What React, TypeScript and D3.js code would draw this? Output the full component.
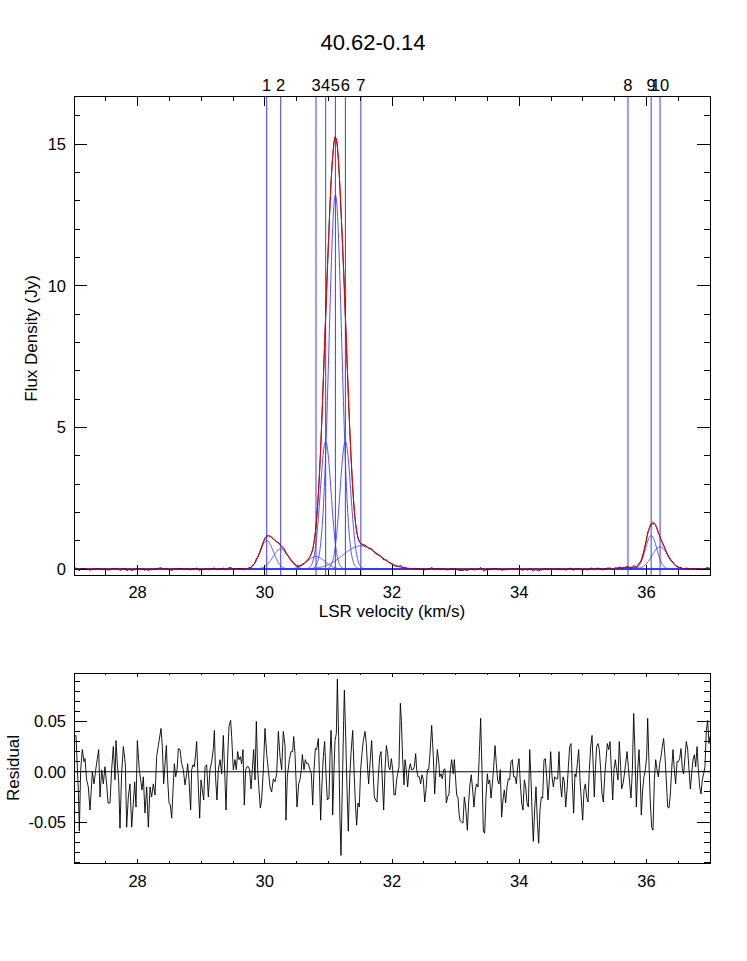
import React from "react";
import * as d3 from "d3";

// ---- Data ----
const title = "40.62-0.14";
const compLabels = ["1", "2", "3", "4", "5", "6", "7", "8", "9", "10"];
const compCenter = [30.03, 30.25, 30.805, 30.957, 31.11, 31.267, 31.51, 35.71, 36.075, 36.215];
const compAmp = [1.0, 0.71, 0.44, 4.5, 13.2, 4.5, 0.82, 0.06, 1.18, 0.78];
const compFwhm = [0.25, 0.29, 0.33, 0.2, 0.235, 0.2, 0.66, 0.35, 0.21, 0.3];

const xMajor = [28, 30, 32, 34, 36];
const fluxMajor = [0, 5, 10, 15];
const residMajor = [-0.05, 0.0, 0.05];
const residMajorLabels = ["-0.05", "0.00", "0.05"];

// residual (data - fit): [velocity km/s, Jy]
const residual: [number, number][] = [
  [27.000,.035],[27.031,.036],[27.068,-.018],[27.084,-.059],[27.105,.002],[27.131,.022],[27.157,.010],[27.173,.013],[27.199,-.008],[27.225,-.015],[27.252,-.038],[27.288,0],[27.314,-.012],[27.341,.002],[27.367,.013],[27.388,.022],[27.409,-.025],[27.435,.002],[27.461,-.012],[27.487,.005],[27.514,-.013],[27.535,-.031],[27.566,-.031],[27.592,.002],[27.618,.025],[27.645,-.008],[27.660,.031],[27.681,.008],[27.702,-.008],[27.723,-.056],[27.749,-.002],[27.776,.025],[27.807,.008],[27.828,-.055],[27.854,-.025],[27.880,-.012],[27.907,-.055],[27.933,-.031],[27.954,-.010],[27.975,-.035],[27.996,.031],[28.027,.002],[28.048,-.008],[28.069,-.018],[28.090,-.005],[28.116,-.041],[28.143,-.015],[28.169,-.055],[28.195,-.015],[28.221,-.025],[28.247,-.012],[28.274,-.023],[28.300,.015],[28.326,.026],
  [28.368,.043],[28.389,.025],[28.410,-.012],[28.431,.008],[28.452,.026],[28.473,-.008],[28.494,-.031],[28.515,-.033],[28.536,-.046],[28.562,-.012],[28.578,.008],[28.599,-.005],[28.620,.002],[28.641,.023],[28.667,.022],[28.693,.008],[28.719,.002],[28.745,-.013],[28.772,-.002],[28.787,.008],[28.808,-.008],[28.834,-.038],[28.850,.002],[28.871,.007],[28.892,.005],[28.913,.018],[28.929,.030],[28.955,-.015],[28.976,-.046],[28.997,-.008],[29.018,-.018],[29.039,-.028],[29.060,.005],[29.086,.007],[29.112,-.025],[29.138,.002],[29.165,.010],[29.191,.023],[29.207,.041],[29.228,-.008],[29.248,-.028],[29.269,.002],[29.296,.012],[29.322,-.002],[29.348,.036],[29.374,-.008],[29.390,-.038],[29.416,.015],[29.437,.045],[29.463,.051],[29.479,.035],[29.505,.002],[29.531,.012],[29.552,.002],[29.573,.020],[29.594,.012],[29.615,.015],[29.636,.008],[29.657,.022],[29.678,-.033],[29.699,.002],[29.720,.005],[29.741,.005],[29.762,.002],[29.783,-.017],[29.804,.002],[29.825,.022],[29.846,-.008],[29.867,.050],[29.888,.002],[29.909,-.018],[29.930,-.036],[29.950,-.028],[29.977,.002],[30.003,.043],[30.029,.018],[30.055,.002],[30.082,-.015],[30.108,-.020],[30.134,-.007],[30.160,-.010],[30.187,-.002],[30.213,.040],[30.239,.015],[30.265,.002],[30.291,.040],[30.318,.026],
  [30.333,-.048],[30.354,-.005],[30.386,.012],[30.412,.020],[30.438,.020],[30.454,.035],[30.475,.018],[30.491,-.008],[30.506,-.035],[30.533,-.012],[30.553,-.008],[30.574,.002],[30.590,.017],[30.616,.002],[30.637,.012],[30.658,.008],[30.684,.008],[30.711,.002],[30.732,-.002],[30.753,-.033],[30.774,.002],[30.795,.023],[30.815,.022],[30.842,.033],[30.857,.002],[30.878,-.048],[30.899,-.012],[30.920,.015],[30.941,.030],[30.962,-.002],[30.983,-.028],[31.009,-.026],[31.025,.015],[31.041,.041],[31.057,.015],[31.067,-.043],[31.088,.002],[31.104,.031],[31.125,.038],[31.141,.092],[31.161,.035],[31.182,-.048],[31.198,-.083],[31.219,-.015],[31.240,.051],[31.251,.081],[31.272,.035],[31.292,-.015],[31.313,-.059],[31.334,-.008],[31.355,.018],[31.382,.041],[31.403,.002],[31.424,-.031],[31.444,-.053],[31.465,-.031],[31.486,-.035],[31.507,.002],[31.528,.018],[31.549,.031],[31.576,.040],[31.596,.028],[31.617,.002],[31.633,-.012],[31.654,.008],[31.680,.031],[31.701,.002],[31.722,-.025],[31.743,-.028],[31.764,-.030],[31.785,-.005],[31.806,.015],[31.827,.020],[31.848,-.008],[31.869,-.038],[31.890,.002],[31.911,.026],[31.932,.018],[31.948,.005],[31.969,.002],[31.990,.013],[32.011,.002],[32.031,-.023],[32.052,-.023],[32.073,-.008],[32.089,-.002],[32.110,.005],[32.131,.068],[32.147,.051],[32.168,.012],[32.189,-.013],[32.204,.012],[32.220,.005],[32.246,-.015],[32.267,.002],[32.288,.008],[32.309,.002],[32.330,.002],[32.351,.005],[32.372,.018],[32.388,.002],[32.409,-.005],[32.430,-.005],[32.451,-.012],[32.471,-.003],[32.493,-.008],[32.514,-.030],[32.535,-.018],[32.556,.002],[32.577,.002],[32.597,.018],[32.624,.046],[32.650,.015],[32.671,-.022],[32.692,.002],[32.713,.022],[32.739,.008],
  [32.750,-.005],[32.770,-.002],[32.791,-.007],[32.812,.002],[32.833,.003],[32.854,-.031],[32.875,-.025],[32.896,-.022],[32.917,.002],[32.938,.012],[32.964,-.002],[32.980,.012],[33.001,-.008],[33.017,-.023],[33.038,-.026],[33.054,-.041],[33.069,-.048],[33.095,-.050],[33.116,-.051],[33.137,-.025],[33.158,-.035],[33.185,-.058],[33.205,-.031],[33.226,-.012],[33.247,-.003],[33.268,-.018],[33.289,-.035],[33.310,-.018],[33.331,-.012],[33.352,-.015],[33.373,.018],[33.394,.053],[33.415,.002],[33.436,-.059],[33.457,-.061],[33.478,-.025],[33.499,-.002],[33.515,-.012],[33.536,-.008],[33.557,-.026],[33.578,-.012],[33.599,.005],[33.620,.026],[33.640,.008],[33.661,-.008],[33.682,-.012],[33.703,.002],[33.724,-.045],[33.745,-.028],[33.766,-.018],[33.787,-.031],[33.808,-.015],[33.829,-.007],[33.850,-.008],[33.871,.010],[33.892,.012],[33.913,-.005],[33.934,-.005],[33.955,-.012],[33.976,.005],[33.997,.013],[34.018,-.012],[34.039,-.031],[34.060,-.038],[34.081,-.008],[34.102,-.015],[34.123,-.031],[34.144,-.035],[34.165,.022],[34.186,-.008],[34.207,-.048],[34.222,-.069],[34.243,-.038],[34.264,-.015],[34.285,-.048],[34.306,-.071],[34.327,-.038],[34.348,-.025],[34.369,-.026],[34.390,.012],[34.411,.013],[34.432,-.005],[34.453,-.028],[34.474,-.008],[34.495,.020],[34.516,-.005],[34.537,-.015],[34.558,-.005],[34.579,-.007],[34.605,-.007],[34.626,.020],[34.647,-.012],[34.668,-.025],[34.689,-.005],[34.710,-.010],[34.731,-.035],[34.752,-.018],[34.773,.005],[34.794,.025],[34.815,.028],[34.836,-.012],[34.856,-.041],[34.877,-.002],
  [34.893,-.005],[34.914,.008],[34.935,.022],[34.956,-.008],[34.977,-.028],[34.998,-.048],[35.019,-.018],[35.040,-.012],[35.061,-.025],[35.082,-.030],[35.103,.002],[35.124,.025],[35.145,.036],[35.166,.002],[35.181,-.025],[35.197,.002],[35.218,.025],[35.239,.028],[35.260,.022],[35.281,.002],[35.302,-.022],[35.323,-.030],[35.344,-.005],[35.365,.012],[35.386,.028],[35.407,.022],[35.428,.030],[35.449,.002],[35.470,-.028],[35.491,.002],[35.511,.012],[35.532,.002],[35.553,-.008],[35.574,.030],[35.595,.005],[35.611,-.017],[35.632,-.012],[35.653,-.003],[35.674,.008],[35.695,.020],[35.716,.005],[35.737,-.012],[35.758,-.026],[35.779,.002],[35.800,.058],[35.821,.018],[35.842,-.035],[35.863,.002],[35.884,.022],[35.905,-.008],[35.920,-.043],[35.941,-.018],[35.962,-.005],[35.983,.002],[36.004,.015],[36.020,.053],[36.041,.008],[36.062,-.031],[36.083,-.055],[36.104,-.058],[36.125,-.008],[36.146,.012],[36.167,.002],[36.188,-.005],[36.209,.008],[36.230,.015],[36.250,.025],[36.271,.033],[36.292,.015],[36.313,-.008],[36.334,-.035],[36.355,-.036],[36.376,-.023],[36.397,.002],[36.418,.022],[36.439,.002],[36.460,-.012],[36.481,.010],[36.502,.010],[36.523,.013],[36.544,.023],[36.565,.003],[36.586,-.002],[36.607,.015],[36.628,.030],[36.649,.022],[36.670,.002],[36.691,-.017],[36.712,-.002],[36.733,.012],[36.754,.017],[36.775,.005],[36.796,.025],[36.817,.002],[36.838,-.015],[36.858,-.022],[36.879,-.008],[36.900,-.002],[36.921,.005],[36.942,.041],[36.963,.051],[36.984,.028],[37.000,.035],
];

// ---- Layout ----
const W = 747, H = 961;
const L = 74, R = 710;
const T1 = 96, B1 = 575;
const T2 = 673, B2 = 863;
const FONT = "'Liberation Sans', Arial, Helvetica, sans-serif";
const FS = 16.5;
const FS_AX = 17;

const xS = d3.scaleLinear().domain([27, 37]).range([L, R]);
const yS = d3.scaleLinear().domain([-0.21, 16.7]).range([B1, T1]);
const yR = d3.scaleLinear().domain([-0.0905, 0.098]).range([B2, T2]);

const gauss = (v: number, i: number) =>
  compAmp[i] * Math.exp((-4 * Math.LN2 * (v - compCenter[i]) ** 2) / compFwhm[i] ** 2);
const model = (v: number) => compCenter.reduce((s, _, i) => s + gauss(v, i), 0);

const grid = d3.range(27, 37.0001, 0.004);
const line = d3.line<[number, number]>().x((d) => d[0]).y((d) => d[1]);

export default function App() {
  const xMinor = d3.range(27, 37.001, 0.5).filter((v) => !xMajor.some((m) => Math.abs(m - v) < 1e-6));
  const fluxMinor = d3.range(0, 16.5, 1).filter((v) => v % 5 !== 0);
  const residMinor = d3.range(-9, 10, 1).map((k) => k / 100).filter((v) => Math.abs(Math.round(v * 100)) % 5 !== 0);

  const compPaths = compCenter.map((_, i) =>
    line(grid.map((v) => [xS(v), yS(gauss(v, i))] as [number, number]))
  );
  const modelPath = line(grid.map((v) => [xS(v), yS(model(v))] as [number, number]));
  const dataPath = line(residual.map(([v, r]) => [xS(v), yS(model(v) + r)] as [number, number]));
  const residPath = line(residual.map(([v, r]) => [xS(v), yR(r)] as [number, number]));

  const tickStyle = { stroke: "#000", strokeWidth: 1, shapeRendering: "crispEdges" as const };

  const xTicks = (top: number, bottom: number, maj: number, min: number, keyp: string) => (
    <g>
      {xMajor.map((v) => (
        <g key={keyp + "M" + v}>
          <line x1={xS(v)} x2={xS(v)} y1={bottom} y2={bottom - maj} {...tickStyle} />
          <line x1={xS(v)} x2={xS(v)} y1={top} y2={top + maj} {...tickStyle} />
        </g>
      ))}
      {xMinor.map((v) => (
        <g key={keyp + "m" + v}>
          <line x1={xS(v)} x2={xS(v)} y1={bottom} y2={bottom - min} {...tickStyle} />
          <line x1={xS(v)} x2={xS(v)} y1={top} y2={top + min} {...tickStyle} />
        </g>
      ))}
    </g>
  );

  const yTicks = (sc: d3.ScaleLinear<number, number>, maj: number[], min: number[], keyp: string) => (
    <g>
      {maj.map((v) => (
        <g key={keyp + "M" + v}>
          <line x1={L} x2={L + 12.7} y1={sc(v)} y2={sc(v)} {...tickStyle} />
          <line x1={R} x2={R - 12.7} y1={sc(v)} y2={sc(v)} {...tickStyle} />
        </g>
      ))}
      {min.map((v) => (
        <g key={keyp + "m" + v}>
          <line x1={L} x2={L + 6.4} y1={sc(v)} y2={sc(v)} {...tickStyle} />
          <line x1={R} x2={R - 6.4} y1={sc(v)} y2={sc(v)} {...tickStyle} />
        </g>
      ))}
    </g>
  );

  return (
    <svg width={W} height={H} style={{ position: "absolute", left: 0, top: 0, background: "#fff" }} fontFamily={FONT}>
      <rect x={0} y={0} width={W} height={H} fill="#fff" />
      <defs>
        <clipPath id="c1"><rect x={L} y={T1} width={R - L} height={B1 - T1} /></clipPath>
        <clipPath id="c2"><rect x={L} y={T2} width={R - L} height={B2 - T2} /></clipPath>
      </defs>

      <text x={373} y={50} fontSize={22} textAnchor="middle">{title}</text>

      {/* top panel */}
      <g clipPath="url(#c1)">
        {compCenter.map((c, i) => (
          <line key={"vl" + i} x1={xS(c)} x2={xS(c)} y1={T1} y2={B1} stroke="#3c3cff" strokeWidth={1} />
        ))}
        {compPaths.map((p, i) => (
          <path key={"cp" + i} d={p || ""} fill="none" stroke="#3c3cff" strokeWidth={0.9} />
        ))}
        <path d={dataPath || ""} fill="none" stroke="#000" strokeWidth={0.9} />
        <path d={modelPath || ""} fill="none" stroke="#ff0000" strokeWidth={1} />
      </g>
      {compCenter.map((c, i) => (
        <text key={"lb" + i} x={xS(c)} y={91} fontSize={FS} textAnchor="middle">{compLabels[i]}</text>
      ))}
      <rect x={L} y={T1} width={R - L} height={B1 - T1} fill="none" stroke="#000" strokeWidth={1} shapeRendering="crispEdges" />
      {xTicks(T1, B1, 9.6, 4.8, "t")}
      {yTicks(yS, fluxMajor, fluxMinor, "f")}
      {xMajor.map((v) => (
        <text key={"xl1" + v} x={xS(v)} y={598} fontSize={FS} textAnchor="middle">{v}</text>
      ))}
      {fluxMajor.map((v) => (
        <text key={"yl1" + v} x={66} y={yS(v)} dy="0.36em" fontSize={FS} textAnchor="end">{v}</text>
      ))}
      <text x={(L + R) / 2} y={617} fontSize={FS_AX} textAnchor="middle">LSR velocity (km/s)</text>
      <text transform={`translate(37, ${(T1 + B1) / 2 + 3}) rotate(-90)`} fontSize={FS_AX} textAnchor="middle">Flux Density (Jy)</text>

      {/* residual panel */}
      <line x1={L} x2={R} y1={yR(0)} y2={yR(0)} stroke="#000" strokeWidth={1} />
      <g clipPath="url(#c2)">
        <path d={residPath || ""} fill="none" stroke="#000" strokeWidth={0.9} />
      </g>
      <rect x={L} y={T2} width={R - L} height={B2 - T2} fill="none" stroke="#000" strokeWidth={1} shapeRendering="crispEdges" />
      {xTicks(T2, B2, 4, 2, "r")}
      {yTicks(yR, residMajor, residMinor, "r")}
      {xMajor.map((v) => (
        <text key={"xl2" + v} x={xS(v)} y={887} fontSize={FS} textAnchor="middle">{v}</text>
      ))}
      {residMajor.map((v, i) => (
        <text key={"yl2" + v} x={66} y={yR(v)} dy="0.36em" fontSize={FS} textAnchor="end">{residMajorLabels[i]}</text>
      ))}
      <text transform={`translate(18.5, ${(T2 + B2) / 2}) rotate(-90)`} fontSize={FS_AX} textAnchor="middle">Residual</text>
    </svg>
  );
}
